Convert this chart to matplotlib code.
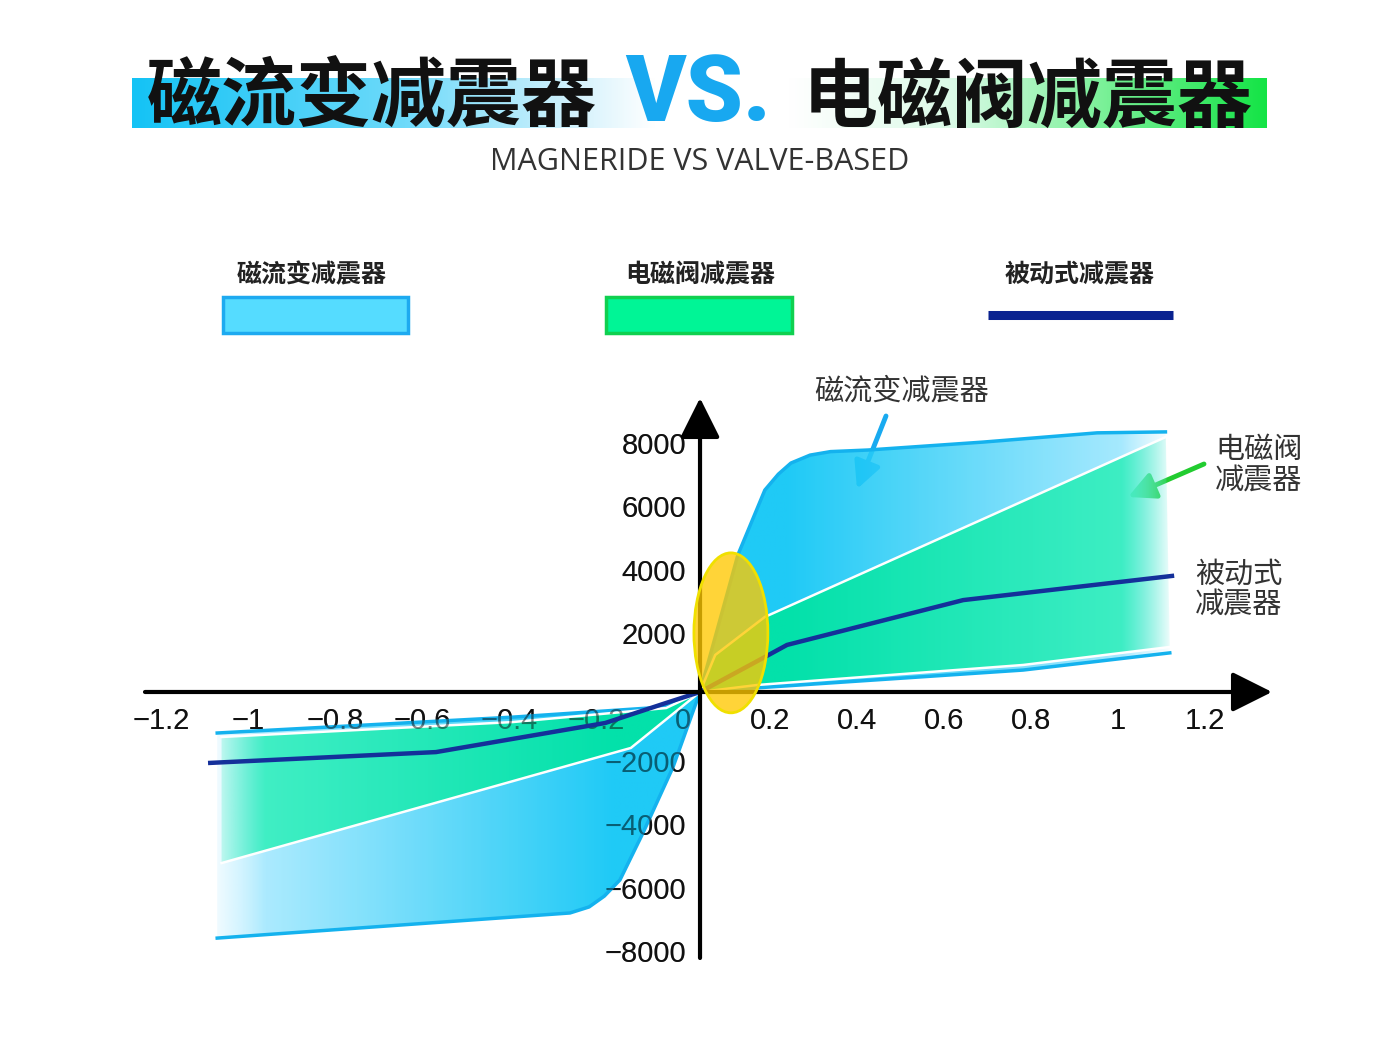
import numpy as np
import matplotlib
matplotlib.use('Agg')
import matplotlib.pyplot as plt
from matplotlib.patches import Polygon, Ellipse, Rectangle
from matplotlib.transforms import ScaledTranslation

CJK = ['Noto Sans CJK SC', 'DejaVu Sans']
plt.rcParams['font.family'] = CJK

# curves (x: speed, y: damping force)
mr_top_x = [-1.11, -0.43, -0.08, 0.0, 0.087, 0.149, 0.18, 0.209, 0.253, 0.30, 0.386, 0.651, 0.913, 1.07]
mr_top_y = [-1290, -790, -470, 0, 4310, 6350, 6850, 7200, 7450, 7560, 7610, 7860, 8150, 8180]
mr_bot_x = [-1.11, -0.34, -0.299, -0.255, -0.22, -0.184, -0.131, -0.062, 0.0, 0.131, 0.743, 1.08]
mr_bot_y = [-7740, -6990, -6950, -6760, -6420, -5910, -4430, -2360, 0, 130, 690, 1230]
valve_top_x = [-1.10, -0.43, -0.078, 0.0, 0.035, 0.149, 1.071]
valve_top_y = [-1415, -945, -505, 0, 1165, 2360, 8020]
valve_bot_x = [-1.10, -0.159, 0.0, 0.131, 0.743, 1.08]
valve_bot_y = [-5380, -1760, 0, 220, 850, 1415]
passive_x = [-1.126, -0.607, -0.218, -0.078, 0.0, 0.145, 0.2, 0.605, 1.085]
passive_y = [-2230, -1890, -975, -345, 0, 1070, 1480, 2890, 3650]

x_ticks = [-1.2, -1, -0.8, -0.6, -0.4, -0.2, 0, 0.2, 0.4, 0.6, 0.8, 1, 1.2]
x_labels = ['−1.2', '−1', '−0.8', '−0.6', '−0.4', '−0.2', '0', '0.2', '0.4', '0.6', '0.8', '1', '1.2']
y_ticks = [8000, 6000, 4000, 2000, -2000, -4000, -6000, -8000]
y_labels = ['8000', '6000', '4000', '2000', '−2000', '−4000', '−6000', '−8000']

legend_names = ['磁流变减震器', '电磁阀减震器', '被动式减震器']

X0, X1 = -1.276, 1.315
Y0, Y1 = -8366, 9246

fig = plt.figure(figsize=(14, 10.5), dpi=100)

# ---------- header / legend layer in pixel coords ----------
top = fig.add_axes([0, 0, 1, 1])
top.set_xlim(0, 1400)
top.set_ylim(1050, 0)
top.axis('off')

# gradient highlight behind the title
t = np.linspace(0, 1, 600)
stops_t = [0.0, 0.24, 0.38, 0.46, 0.58, 0.72, 0.86, 1.0]
stops_c = np.array([[20, 195, 245], [110, 218, 250], [205, 240, 252], [255, 255, 255],
                    [255, 255, 255], [220, 250, 232], [120, 240, 150], [20, 228, 70]]) / 255
bar = np.stack([np.interp(t, stops_t, stops_c[:, k]) for k in range(3)], axis=-1)[None, :, :]
top.imshow(bar, extent=(132, 1267, 128, 78), aspect='auto', interpolation='bilinear', zorder=1)
top.set_xlim(0, 1400)
top.set_ylim(1050, 0)

top.text(372, 99, '磁流变减震器', fontsize=54, fontweight='black', color='#111111',
         ha='center', va='center', family=CJK, zorder=2)
top.text(698, 96, 'VS.', fontsize=66, fontweight='heavy', color='#18A8F0',
         ha='center', va='center', family=['Roboto', 'DejaVu Sans'], zorder=2)
top.text(1028, 99, '电磁阀减震器', fontsize=54, fontweight='black', color='#111111',
         ha='center', va='center', family=CJK, zorder=2)
top.text(700, 162, 'MAGNERIDE VS VALVE-BASED', fontsize=22, color='#333333',
         ha='center', va='center', family=['Open Sans', 'DejaVu Sans'])

# legend
leg_x = [312, 700, 1080]
for cx, name in zip(leg_x, legend_names):
    top.text(cx, 275, name, fontsize=18, fontweight='bold', color='#222222', ha='center', va='center')
top.add_patch(Rectangle((223, 297), 185, 36, facecolor='#55DCFF', edgecolor='#1EAAF0', lw=2.5))
top.add_patch(Rectangle((606, 297), 186, 36, facecolor='#00F596', edgecolor='#10D050', lw=2.5))
top.plot([988, 1173], [315, 315], color='#0A2290', lw=6.5, solid_capstyle='butt')

# curve annotations
top.text(902, 392, '磁流变减震器', fontsize=21, color='#333333', ha='center', va='center')
top.annotate('', xy=(857, 489), xytext=(886, 416),
             arrowprops=dict(arrowstyle='-|>,head_length=0.9,head_width=0.45', mutation_scale=18,
                             color='#19AAF0', lw=3.5, shrinkA=0, shrinkB=0))
top.text(1215, 466, '电磁阀\n减震器', fontsize=21, color='#333333', ha='left', va='center',
         linespacing=1.05)
top.annotate('', xy=(1128, 497), xytext=(1204, 464),
             arrowprops=dict(arrowstyle='-|>,head_length=0.9,head_width=0.45', mutation_scale=18,
                             color='#22CC30', lw=3.5, shrinkA=0, shrinkB=0))
top.text(1195, 590, '被动式\n减震器', fontsize=21, color='#333333', ha='left', va='center',
         linespacing=1.05)

# ---------- main plot ----------
ax = fig.add_axes([145 / 1400, 92 / 1050, 1127 / 1400, 560 / 1050])
ax.set_facecolor('none')
for s in ax.spines.values():
    s.set_visible(False)
ax.set_xticks([])
ax.set_yticks([])

# tick labels: an opaque copy under the bands and a faint copy over them
off_x = ScaledTranslation(-0.17, -0.29, fig.dpi_scale_trans)
off_y = ScaledTranslation(-0.14, -0.08, fig.dpi_scale_trans)
for z, a in [(1, 1.0), (4.5, 0.5)]:
    for v, lab in zip(x_ticks, x_labels):
        ax.text(v, 0, lab, fontsize=21, ha='center', va='center', color='#111111', alpha=a,
                family=['Liberation Sans', 'DejaVu Sans'], transform=ax.transData + off_x, zorder=z)
    for v, lab in zip(y_ticks, y_labels):
        ax.text(0, v, lab, fontsize=21, ha='right', va='center', color='#111111', alpha=a,
                family=['Liberation Sans', 'DejaVu Sans'], transform=ax.transData + off_y, zorder=z)


def band(xa, ya, xb, yb, near, far, alpha, z):
    xs = np.linspace(X0, X1, 900)
    tt = np.clip((np.abs(xs) - 0.2) / 0.85, 0, 1)
    near = np.array(near) / 255
    far = np.array(far) / 255
    rgb = near[None, :] * (1 - tt[:, None]) + far[None, :] * tt[:, None]
    fade = np.ones_like(xs)
    fade = np.where(xs > 0.97, np.clip((1.09 - xs) / 0.12, 0, 1), fade)
    fade = np.where(xs < -1.0, np.clip((xs + 1.14) / 0.14, 0, 1), fade)
    rgba = np.zeros((2, len(xs), 4))
    rgba[..., :3] = rgb
    rgba[..., 3] = fade * alpha
    im = ax.imshow(rgba, extent=(X0, X1, Y0, Y1), aspect='auto', origin='lower',
                   interpolation='bilinear', zorder=z)
    pts = np.column_stack([np.r_[xa, xb[::-1]], np.r_[ya, yb[::-1]]])
    poly = Polygon(pts, closed=True, transform=ax.transData)
    im.set_clip_path(poly)


band(mr_top_x, mr_top_y, mr_bot_x, mr_bot_y, (0, 195, 245), (170, 234, 255), 0.88, 2)
band(valve_top_x, valve_top_y, valve_bot_x, valve_bot_y, (0, 228, 162), (55, 240, 192), 0.9, 3)

ax.plot(mr_top_x, mr_top_y, color='#14B2EE', lw=2.5, zorder=3.5, solid_joinstyle='round')
ax.plot(mr_bot_x, mr_bot_y, color='#14B2EE', lw=2.5, zorder=3.5, solid_joinstyle='round')
ax.plot(valve_top_x, valve_top_y, color='white', lw=1.8, zorder=4)
ax.plot(valve_bot_x, valve_bot_y, color='white', lw=1.8, zorder=4)
ax.plot(passive_x, passive_y, color='#14309A', lw=3.2, zorder=5, solid_joinstyle='round')

# axes with arrows
ax.annotate('', xy=(X1, 0), xytext=(X0, 0),
            arrowprops=dict(arrowstyle='-|>,head_length=1.3,head_width=0.65', mutation_scale=19,
                            color='black', lw=3, shrinkA=0, shrinkB=0), zorder=6)
ax.annotate('', xy=(0, Y1), xytext=(0, Y0),
            arrowprops=dict(arrowstyle='-|>,head_length=1.3,head_width=0.65', mutation_scale=19,
                            color='black', lw=3, shrinkA=0, shrinkB=0), zorder=6)

# highlighted low-speed zone
ax.add_patch(Ellipse((0.071, 1860), 0.170, 5030, facecolor=(1.0, 0.79, 0.0, 0.78),
                     edgecolor='#F0E000', lw=2, zorder=7))

ax.set_xlim(X0, X1)
ax.set_ylim(Y0, Y1)

fig.savefig('out.png', dpi=100)
